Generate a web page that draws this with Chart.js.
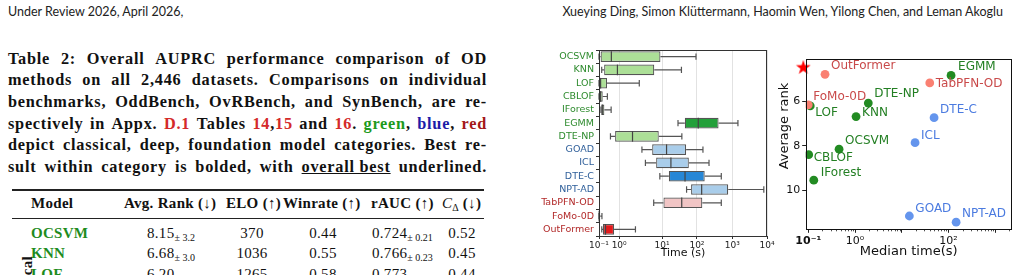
<!DOCTYPE html>
<html>
<head>
<meta charset="utf-8">
<script src="https://cdn.jsdelivr.net/npm/chart.js"></script>
<style>
  body { margin:0; width:1022px; height:275px; position:relative; overflow:hidden; background:#fff; color:#111; }
  .hd { position:absolute; top:4px; font:12.5px Lato; line-height:16px; color:#222; white-space:nowrap; }
  .cl { position:absolute; left:8px; width:479px; display:flex; justify-content:space-between; align-items:baseline;
        font:bold 16.3px 'Liberation Serif'; letter-spacing:0.75px; line-height:21.7px; white-space:nowrap; color:#111; }
  r { color:#d42a2a; } g { color:#1d9a1d; } bl { color:#1c1ca8; } dr { color:#a31818; }
  .rule { position:absolute; left:12px; width:472px; background:#222; }
  .t { position:absolute; font:15px 'Liberation Serif'; letter-spacing:0.3px; line-height:16px; white-space:nowrap; color:#111; }
  .b { font-weight:bold; }
  .m { color:#1e8c1e; font-weight:bold; }
  .c { transform:translateX(-50%); }
  sub { font-size:10px; vertical-align:-3px; line-height:0; letter-spacing:0; }
  canvas { position:absolute; }
</style>
</head>
<body>
<div class="hd" style="left:8px">Under Review 2026, April 2026,</div>
<div class="hd" style="right:19px">Xueying Ding, Simon Klüttermann, Haomin Wen, Yilong Chen, and Leman Akoglu</div>
<div id="cap"></div>

<div class="rule" style="top:189px;height:1.5px"></div>
<div class="rule" style="top:218px;height:1px"></div>

<span class="t b" style="left:31px;top:195px">Model</span>
<span class="t b" style="left:124px;top:195px">Avg. Rank (↓)</span>
<span class="t b" style="left:226px;top:195px">ELO (↑)</span>
<span class="t b" style="left:283px;top:195px">Winrate (↑)</span>
<span class="t b" style="left:371px;top:195px">rAUC (↑)</span>
<span class="t" style="left:442px;top:195px"><i>C</i><sub>Δ</sub> <b>(↓)</b></span>

<span class="t m" style="left:31px;top:225px">OCSVM</span>
<span class="t" style="left:147px;top:225px">8.15<sub>± 3.2</sub></span>
<span class="t c" style="left:252px;top:225px">370</span>
<span class="t c" style="left:323px;top:225px">0.44</span>
<span class="t" style="left:372px;top:225px">0.724<sub>± 0.21</sub></span>
<span class="t c" style="left:462px;top:225px">0.52</span>

<span class="t m" style="left:31px;top:245px">KNN</span>
<span class="t" style="left:147px;top:245px">6.68<sub>± 3.0</sub></span>
<span class="t c" style="left:252px;top:245px">1036</span>
<span class="t c" style="left:323px;top:245px">0.55</span>
<span class="t" style="left:372px;top:245px">0.766<sub>± 0.23</sub></span>
<span class="t c" style="left:462px;top:245px">0.45</span>

<span class="t m" style="left:31px;top:266px">LOF</span>
<span class="t" style="left:147px;top:266px">6.20<sub>± 2.5</sub></span>
<span class="t c" style="left:252px;top:266px">1265</span>
<span class="t c" style="left:323px;top:266px">0.58</span>
<span class="t" style="left:372px;top:266px">0.773<sub>± 0.22</sub></span>
<span class="t c" style="left:462px;top:266px">0.44</span>

<div class="t b" style="right:995px;top:248px;transform-origin:100% 50%;transform:rotate(-90deg)">Classical</div>

<canvas id="boxChart" width="245" height="221" style="left:530px;top:40px;width:245px;height:221px"></canvas>
<canvas id="scatterChart" width="247" height="212" style="left:775px;top:50px;width:247px;height:212px"></canvas>

<script>
// ---- data ----
const models = ['OCSVM', 'KNN', 'LOF', 'CBLOF', 'IForest', 'EGMM', 'DTE-NP',
                'GOAD', 'ICL', 'DTE-C', 'NPT-AD', 'TabPFN-OD', 'FoMo-0D', 'OutFormer'];
const modelGroup = ['classical', 'classical', 'classical', 'classical', 'classical', 'classical', 'classical',
                    'deep', 'deep', 'deep', 'deep', 'foundation', 'foundation', 'foundation'];
// runtime distribution (seconds)
const timeMin    = [0.1,  0.136, 0.1,  0.1,   0.125, 28.7, 0.37, 3.4,  4.1,  8.9,  50.5, 6.4,  0.1,   0.137];
const timeQ1     = [0.12, 0.18,  0.1,  0.1,   0.13,  45,   0.63, 5.9,  7.3,  15.7, 68,   11,   0.1,   0.158];
const timeMedian = [0.41, 0.82,  0.12, 0.12,  0.146, 109,  2.05, 13.5, 18,   45.6, 136,  36.7, 0.102, 0.21];
const timeQ3     = [9.2,  6.6,   0.25, 0.153, 0.184, 410,  8.4,  49,   58.6, 166,  770,  142,  0.115, 0.56];
const timeMax    = [94,   36,    2.95, 0.26,  0.4,   1460, 37,   148,  220,  490,  8100, 490,  0.14,  2.4];
const timeTicks  = [0.1, 1, 10, 100, 1000, 10000];

// median time vs average rank
const methods      = ['OutFormer', 'EGMM', 'TabPFN-OD', 'LOF', 'FoMo-0D', 'DTE-NP', 'KNN',
                      'DTE-C', 'ICL', 'OCSVM', 'CBLOF', 'IForest', 'GOAD', 'NPT-AD'];
const methodGroup  = ['foundation', 'classical', 'foundation', 'classical', 'foundation', 'classical', 'classical',
                      'deep', 'deep', 'classical', 'classical', 'classical', 'deep', 'deep'];
const medianTime   = [0.228, 113, 39.6, 0.11, 0.1, 1.92, 1.05, 49, 19.2, 0.455, 0.102, 0.131, 14.5, 145];
const avgRank      = [4.77, 4.82, 5.16, 6.2, 6.15, 6.07, 6.68, 6.73, 7.86, 8.15, 8.4, 9.55, 11.17, 11.45];
const idealPoint   = {x: 0.078, y: 4.47};
const rankTicks    = [6, 8, 10];
const medTimeTicks = [0.1, 1, 10, 100, 1000];
const medTimeLabeled = [0.1, 1, 100];

// ---- styles ----
const boxFill = ['#acdf97', '#acdf97', '#acdf97', '#acdf97', '#acdf97', '#23a03a', '#acdf97',
                 '#a9cdea', '#a9cdea', '#2787d6', '#a9cdea', '#f1c5c5', '#555555', '#e41a1c'];
const axisLabelColor = {classical: '#2e8b2e', deep: '#2f5f9a', foundation: '#b22a2a'};
const dotColor  = {classical: '#228b22', deep: '#6495ed', foundation: '#fa8072'};
const textColor = {classical: '#237f23', deep: '#4b7be0', foundation: '#c94a4a'};
const labelOffset = {
  'OutFormer': [6, -8], 'EGMM': [7, -9], 'TabPFN-OD': [6, 1], 'FoMo-0D': [5, -8], 'LOF': [5, 7],
  'DTE-NP': [6, -9], 'KNN': [6, -4], 'DTE-C': [6, -8], 'ICL': [6, -7], 'OCSVM': [6, -8],
  'CBLOF': [5, 3], 'IForest': [7, -7], 'GOAD': [6, -7], 'NPT-AD': [6, -8]
};

// ---- caption ----
const capLines = [
  'Table 2: Overall AUPRC performance comparison of OD',
  'methods on all 2,446 datasets. Comparisons on individual',
  'benchmarks, OddBench, OvRBench, and SynBench, are re-',
  'spectively in Appx. <r>D.1</r> Tables <r>14</r>,<r>15</r> and <r>16</r>. <g>green</g>, <bl>blue</bl>, <dr>red</dr>',
  'depict classical, deep, foundation model categories. Best re-',
  'sult within category is bolded, with <u>overall&nbsp;best</u> underlined.'
];
const cap = document.getElementById('cap');
capLines.forEach((ln, i) => {
  const d = document.createElement('div');
  d.className = 'cl';
  d.style.top = (47.5 + i * 21.7) + 'px';
  d.innerHTML = ln.split(' ').map(w => '<span>' + w + '</span>').join('');
  cap.appendChild(d);
});

// ---- helpers ----
const SUP = {'-': '⁻', '0': '⁰', '1': '¹', '2': '²', '3': '³', '4': '⁴'};
const pow10Label = v => '10' + String(Math.round(Math.log10(v))).split('').map(c => SUP[c]).join('');

// the runtime axis in the figure is log-like but its first decades are uneven
const KNOT_LOG  = [-1, 0, 1, 2, 3, 4];
const KNOT_FRAC = [0, 0.12, 0.375, 0.583, 0.793, 1];
class PiecewiseLogScale extends Chart.LogarithmicScale {
  static id = 'piecewiseLog';
  getPixelForValue(value) {
    if (value === undefined || value === 0) value = this.min;
    if (value === null || isNaN(value)) return NaN;
    const l = Math.log10(value);
    let k = 0;
    while (k < KNOT_LOG.length - 2 && l > KNOT_LOG[k + 1]) k++;
    const t = (l - KNOT_LOG[k]) / (KNOT_LOG[k + 1] - KNOT_LOG[k]);
    return this.getPixelForDecimal(KNOT_FRAC[k] + t * (KNOT_FRAC[k + 1] - KNOT_FRAC[k]));
  }
  getValueForPixel(pixel) {
    const d = this.getDecimalForPixel(pixel);
    let k = 0;
    while (k < KNOT_FRAC.length - 2 && d > KNOT_FRAC[k + 1]) k++;
    const t = (d - KNOT_FRAC[k]) / (KNOT_FRAC[k + 1] - KNOT_FRAC[k]);
    return Math.pow(10, KNOT_LOG[k] + t * (KNOT_LOG[k + 1] - KNOT_LOG[k]));
  }
}
Chart.register(PiecewiseLogScale);

const framePlugin = {
  id: 'frame',
  afterDraw(chart, args, opts) {
    const {ctx, chartArea: a} = chart;
    ctx.save();
    ctx.strokeStyle = opts.color || '#222';
    ctx.lineWidth = 1;
    ctx.strokeRect(Math.round(a.left) + 0.5, Math.round(a.top) + 0.5,
                   Math.round(a.right - a.left) - 1, Math.round(a.bottom - a.top));
    ctx.restore();
  }
};

const whiskerPlugin = {
  id: 'whiskers',
  afterDatasetsDraw(chart) {
    const {ctx, scales: {x, y}} = chart;
    const bars = chart.getDatasetMeta(0).data;
    ctx.save();
    ctx.lineWidth = 1.2;
    models.forEach((m, i) => {
      const cy = y.getPixelForValue(i);
      const hb = bars[i].height / 2;
      const cap = hb * 0.6;
      const lo = x.getPixelForValue(timeMin[i]), q1 = x.getPixelForValue(timeQ1[i]);
      const q3 = x.getPixelForValue(timeQ3[i]), hi = x.getPixelForValue(timeMax[i]);
      const md = x.getPixelForValue(timeMedian[i]);
      ctx.strokeStyle = '#555';
      ctx.beginPath();
      ctx.moveTo(lo, cy); ctx.lineTo(q1, cy);
      ctx.moveTo(q3, cy); ctx.lineTo(hi, cy);
      ctx.moveTo(lo, cy - cap); ctx.lineTo(lo, cy + cap);
      ctx.moveTo(hi, cy - cap); ctx.lineTo(hi, cy + cap);
      ctx.stroke();
      ctx.strokeStyle = '#444';
      ctx.beginPath();
      ctx.moveTo(md, cy - hb); ctx.lineTo(md, cy + hb);
      ctx.stroke();
    });
    ctx.restore();
  }
};

const pointLabelPlugin = {
  id: 'pointLabels',
  afterDatasetsDraw(chart) {
    const {ctx} = chart;
    const pts = chart.getDatasetMeta(0).data;
    ctx.save();
    ctx.font = '12px "DejaVu Sans"';
    ctx.textAlign = 'left';
    ctx.textBaseline = 'middle';
    methods.forEach((m, i) => {
      const [dx, dy] = labelOffset[m];
      ctx.fillStyle = textColor[methodGroup[i]];
      ctx.fillText(m, pts[i].x + dx, pts[i].y + dy);
    });
    ctx.restore();
  }
};

// y title sits above centre in the figure, so it is drawn by hand
const rankTitlePlugin = {
  id: 'rankTitle',
  afterDraw(chart) {
    const {ctx} = chart;
    ctx.save();
    ctx.translate(10, 76);
    ctx.rotate(-Math.PI / 2);
    ctx.font = '13px "DejaVu Sans"';
    ctx.fillStyle = '#111';
    ctx.textAlign = 'center';
    ctx.textBaseline = 'middle';
    ctx.fillText('Average rank', 0, 0);
    ctx.restore();
  }
};

const minorTickPlugin = {
  id: 'minorTicks',
  afterDraw(chart) {
    const {ctx, scales: {x}, chartArea: a} = chart;
    ctx.save();
    ctx.strokeStyle = '#222';
    ctx.lineWidth = 0.8;
    ctx.beginPath();
    for (let e = -1; e <= 3; e++) {
      for (let k = 2; k <= 9; k++) {
        const v = k * Math.pow(10, e);
        if (v > x.max) continue;
        const px = Math.round(x.getPixelForValue(v)) + 0.5;
        ctx.moveTo(px, a.bottom); ctx.lineTo(px, a.bottom + 2);
      }
    }
    ctx.stroke();
    ctx.restore();
  }
};

function makeStar(size, color) {
  const c = document.createElement('canvas');
  c.width = c.height = size;
  const g = c.getContext('2d');
  const R = size / 2 - 0.3, r = R * 0.382, cx = size / 2, cy = size / 2;
  g.beginPath();
  for (let k = 0; k < 10; k++) {
    const ang = -Math.PI / 2 + k * Math.PI / 5;
    const rad = k % 2 ? r : R;
    g.lineTo(cx + rad * Math.cos(ang), cy + rad * Math.sin(ang));
  }
  g.closePath();
  g.fillStyle = color;
  g.fill();
  return c;
}

// ---- runtime box plot ----
new Chart(document.getElementById('boxChart'), {
  type: 'bar',
  data: {
    labels: models,
    datasets: [{
      data: models.map((m, i) => [timeQ1[i], timeQ3[i]]),
      backgroundColor: boxFill,
      borderColor: '#555',
      borderWidth: 1.2,
      borderSkipped: false,
      barPercentage: 0.8,
      categoryPercentage: 1
    }]
  },
  options: {
    indexAxis: 'y',
    responsive: false,
    animation: false,
    devicePixelRatio: 1,
    layout: {padding: {top: 10, right: 8, left: 0, bottom: 0}},
    plugins: {legend: {display: false}, tooltip: {enabled: false}, frame: {color: '#333'}},
    scales: {
      x: {
        type: 'piecewiseLog',
        min: 0.1,
        max: 10000,
        afterBuildTicks: s => { s.ticks = timeTicks.map(v => ({value: v, major: true})); },
        afterFit: s => { s.height = 25; s.paddingLeft = 0; s.paddingRight = 0; },
        ticks: {autoSkip: false, maxRotation: 0, padding: 1, color: '#222',
                font: {family: 'DejaVu Sans', size: 9}, callback: v => pow10Label(v)},
        grid: {color: '#e2e2e2', tickColor: '#333', tickLength: 3},
        border: {display: false},
        title: {display: true, text: 'Time (s)', color: '#111',
                font: {family: 'DejaVu Sans', size: 11}, padding: {top: 0, bottom: 1}}
      },
      y: {
        type: 'category',
        offset: true,
        afterFit: s => { s.width = 69; s.paddingTop = 0; s.paddingBottom = 0; },
        ticks: {autoSkip: false, padding: 2, font: {family: 'DejaVu Sans', size: 9.5},
                color: c => axisLabelColor[modelGroup[c.index]]},
        grid: {display: true, drawOnChartArea: false, tickLength: 3, tickColor: '#333'},
        border: {display: false}
      }
    }
  },
  plugins: [whiskerPlugin, framePlugin]
});

// ---- median time vs average rank ----
new Chart(document.getElementById('scatterChart'), {
  type: 'scatter',
  data: {
    datasets: [{
      data: methods.map((m, i) => ({x: medianTime[i], y: avgRank[i]})),
      pointBackgroundColor: methodGroup.map(g => dotColor[g]),
      pointBorderWidth: 0,
      pointRadius: 4.4
    }, {
      data: [idealPoint],
      pointStyle: makeStar(16, '#ff0000'),
      pointRadius: 8,
      clip: false
    }]
  },
  options: {
    responsive: false,
    animation: false,
    devicePixelRatio: 1,
    layout: {padding: {top: 8.3, right: 10.3, left: 0, bottom: 0}},
    plugins: {legend: {display: false}, tooltip: {enabled: false}, frame: {color: '#111'}},
    scales: {
      x: {
        type: 'logarithmic',
        min: 0.088,
        max: 2240,
        afterBuildTicks: s => { s.ticks = medTimeTicks.map(v => ({value: v, major: true})); },
        afterFit: s => { s.height = 32.7; s.paddingLeft = 0; s.paddingRight = 0; },
        ticks: {autoSkip: false, maxRotation: 0, padding: 2, color: '#111',
                font: c => ({family: 'DejaVu Sans', size: 11, weight: c.tick && c.tick.value === 0.1 ? 'bold' : 'normal'}),
                callback: v => medTimeLabeled.includes(v) ? pow10Label(v) : ''},
        grid: {drawOnChartArea: false, tickColor: '#222', tickLength: 3.5},
        border: {display: false},
        title: {display: true, text: 'Median time(s)', color: '#111',
                font: {family: 'DejaVu Sans', size: 13}, padding: {top: 0, bottom: 2.5}}
      },
      y: {
        type: 'linear',
        reverse: true,
        min: 4.08,
        max: 11.77,
        afterBuildTicks: s => { s.ticks = rankTicks.map(v => ({value: v})); },
        afterFit: s => { s.width = 30.7; s.paddingTop = 0; s.paddingBottom = 0; },
        ticks: {padding: 2, color: '#111', font: {family: 'DejaVu Sans', size: 11}},
        grid: {drawOnChartArea: false, tickColor: '#222', tickLength: 3.5},
        border: {display: false}
      }
    }
  },
  plugins: [pointLabelPlugin, minorTickPlugin, rankTitlePlugin, framePlugin]
});
</script>
</body>
</html>
